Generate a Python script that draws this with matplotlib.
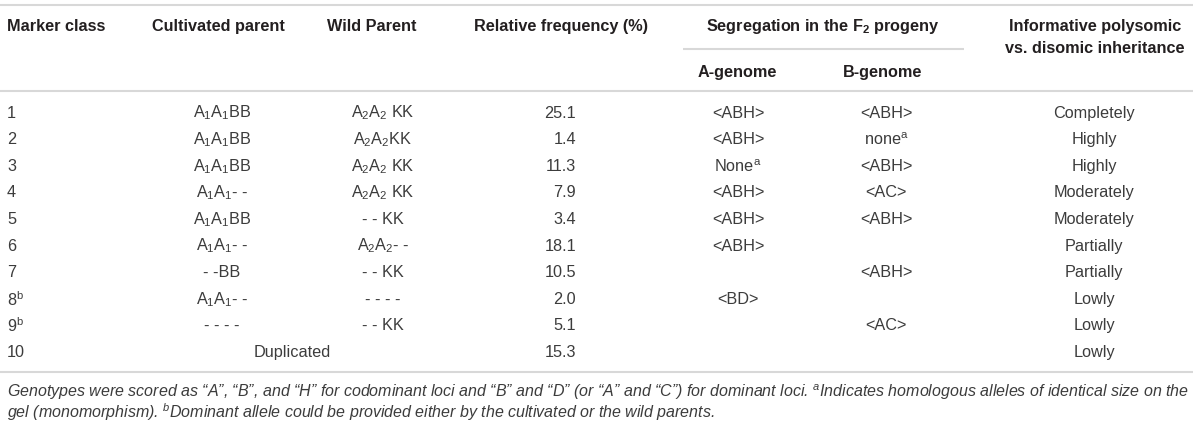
import matplotlib
matplotlib.use("Agg")
import matplotlib.pyplot as plt

plt.rcParams['font.family'] = ['Liberation Sans', 'DejaVu Sans']
plt.rcParams['mathtext.fontset'] = 'custom'
plt.rcParams['mathtext.rm'] = 'Liberation Sans'
plt.rcParams['mathtext.it'] = 'Liberation Sans:italic'
plt.rcParams['mathtext.bf'] = 'Liberation Sans:bold'
plt.rcParams['mathtext.default'] = 'regular'

# table content
marker_class = ['1', '2', '3', '4', '5', '6', '7', '8$^b$', '9$^b$', '10']
cultivated = ['A$_1$A$_1$BB', 'A$_1$A$_1$BB', 'A$_1$A$_1$BB', 'A$_1$A$_1$- -', 'A$_1$A$_1$BB',
              'A$_1$A$_1$- -', '- -BB', 'A$_1$A$_1$- -', '- - - -', '']
wild = ['A$_2$A$_2$ KK', 'A$_2$A$_2$KK', 'A$_2$A$_2$ KK', 'A$_2$A$_2$ KK', '- - KK',
        'A$_2$A$_2$- -', '- - KK', '- - - -', '- - KK', '']
rel_freq = [25.1, 1.4, 11.3, 7.9, 3.4, 18.1, 10.5, 2.0, 5.1, 15.3]
a_genome = ['<ABH>', '<ABH>', 'None$^a$', '<ABH>', '<ABH>', '<ABH>', '', '<BD>', '', '']
b_genome = ['<ABH>', 'none$^a$', '<ABH>', '<AC>', '<ABH>', '', '<ABH>', '', '<AC>', '']
informative = ['Completely', 'Highly', 'Highly', 'Moderately', 'Moderately',
               'Partially', 'Partially', 'Lowly', 'Lowly', 'Lowly']
spanned = {9: 'Duplicated'}

footnote = ['Genotypes were scored as \u201cA\u201d, \u201cB\u201d, and \u201cH\u201d for codominant loci and '
            '\u201cB\u201d and \u201cD\u201d (or \u201cA\u201d and \u201cC\u201d) for dominant loci. '
            '$^a$Indicates homologous alleles of identical size on the',
            'gel (monomorphism). $^b$Dominant allele could be provided either by the cultivated or the wild parents.']

fig = plt.figure(figsize=(12, 4.25), dpi=100)
ax = fig.add_axes([0, 0, 1, 1])
ax.set_xlim(0, 1200)
ax.set_ylim(425, 0)
ax.axis('off')

hc = '#231f20'
bc = '#3c3c3c'
rc = '#d8d8d8'
fs = 11.7

# rules
for y in [5, 91, 372]:
    ax.plot([0, 1193], [y, y], color=rc, lw=1.5, solid_capstyle='butt')
ax.plot([683, 964], [49, 49], color=rc, lw=1.5, solid_capstyle='butt')

# header
hkw = dict(fontsize=fs, fontweight='bold', color=hc, va='center')
ax.text(7, 26, 'Marker class', ha='left', **hkw)
ax.text(218, 26, 'Cultivated parent', ha='center', **hkw)
ax.text(372, 26, 'Wild Parent', ha='center', **hkw)
ax.text(561, 26, 'Relative frequency (%)', ha='center', **hkw)
ax.text(823, 26, r'Segregation in the F$_\mathbf{2}$ progeny', ha='center', **hkw)
ax.text(1095, 26, 'Informative polysomic', ha='center', **hkw)
ax.text(1095, 48, 'vs. disomic inheritance', ha='center', **hkw)
ax.text(737, 72, 'A-genome', ha='center', **hkw)
ax.text(883, 72, 'B-genome', ha='center', **hkw)

# body rows
row_y = [113 + i * 26.6 for i in range(len(marker_class))]
bkw = dict(fontsize=fs, color=bc, va='center')
for i, y in enumerate(row_y):
    ax.text(7, y, marker_class[i], ha='left', **bkw)
    if i in spanned:
        ax.text(292, y, spanned[i], ha='center', **bkw)
    else:
        ax.text(222, y, cultivated[i], ha='center', **bkw)
        ax.text(383, y, wild[i], ha='center', **bkw)
    ax.text(576, y, f'{rel_freq[i]:.1f}', ha='right', **bkw)
    ax.text(738, y, a_genome[i], ha='center', **bkw)
    ax.text(886, y, b_genome[i], ha='center', **bkw)
    ax.text(1094, y, informative[i], ha='center', **bkw)

# footnote
for j, line in enumerate(footnote):
    ax.text(7, 392 + j * 20.5, line, ha='left', va='center', fontsize=11.5,
            style='italic', color=bc)

fig.savefig('out.png', dpi=100)
